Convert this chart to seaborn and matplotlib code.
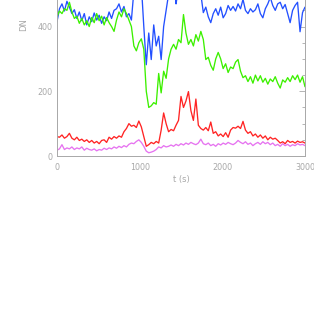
import numpy as np
import pandas as pd
import seaborn as sns
import matplotlib.pyplot as plt
from matplotlib.ticker import MultipleLocator

# time grid (s)
time_s = np.arange(0, 3001, 30)

blue_dn = [415, 455, 470, 448, 478, 460, 440, 452, 425, 445,
           418, 440, 405, 430, 415, 442, 420, 435, 410, 430,
           418, 445, 425, 450, 455, 470, 445, 462, 430, 440,
           420, 510, 560, 560, 530, 400, 282, 380, 298, 405,
           340, 370, 298, 400, 450, 500, 540, 560, 470, 520,
           560, 570, 570, 570, 570, 570, 560, 540, 500, 443,
           460, 430, 412, 440, 455, 435, 460, 427, 440, 465,
           450, 462, 448, 470, 455, 484, 450, 440, 455, 445,
           452, 470, 440, 427, 455, 470, 490, 465, 450, 470,
           475, 455, 468, 440, 412, 450, 465, 475, 384, 443,
           460]

green_dn = [430, 448, 440, 455, 450, 475, 445, 425, 432, 410,
            425, 405, 418, 400, 428, 412, 440, 418, 432, 405,
            428, 412, 400, 385, 420, 445, 430, 455, 440, 420,
            400, 340, 325, 350, 362, 330, 200, 150, 155, 165,
            160, 255, 195, 262, 240, 300, 330, 345, 330, 360,
            350, 437, 380, 345, 360, 340, 375, 355, 385, 360,
            298, 305, 280, 265, 300, 320, 300, 270, 285, 258,
            275, 270, 290, 298, 262, 242, 248, 230, 245, 225,
            250, 232, 248, 228, 240, 222, 238, 230, 245, 225,
            210, 235, 228, 242, 230, 248, 236, 250, 228, 245,
            214]

red_dn = [60, 58, 65, 55, 60, 70, 55, 50, 58, 48,
          52, 45, 50, 42, 48, 40, 45, 38, 48, 50,
          42, 58, 52, 60, 55, 62, 58, 75, 85, 100,
          92, 95, 88, 108, 90, 60, 30, 35, 42, 38,
          45, 40, 80, 133, 100, 75, 82, 78, 95, 110,
          184, 150, 170, 199, 140, 110, 176, 95, 85, 80,
          88, 78, 105, 70, 75, 62, 68, 60, 72, 58,
          80, 88, 86, 92, 85, 107, 80, 70, 75, 62,
          68, 58, 65, 55, 62, 50, 58, 52, 55, 48,
          40, 44, 38, 48, 42, 45, 40, 46, 42, 44,
          40]

violet_dn = [18, 22, 35, 20, 25, 22, 28, 20, 25, 22,
             28, 18, 24, 20, 18, 22, 16, 20, 18, 24,
             20, 25, 22, 28, 24, 30, 26, 32, 28, 36,
             40, 38, 45, 50, 42, 30, 15, 10, 12, 15,
             20, 28, 25, 32, 28, 30, 34, 30, 36, 32,
             38, 34, 40, 36, 42, 38, 35, 40, 52, 38,
             35, 40, 32, 36, 30, 38, 34, 40, 36, 42,
             38, 35, 40, 48, 42, 38, 44, 36, 40, 32,
             38, 42, 36, 44, 38, 42, 35, 40, 32, 36,
             30, 38, 32, 36, 30, 35, 32, 38, 34, 36,
             32]

series = [("blue", blue_dn, "#2350ff"),
          ("green", green_dn, "#3cf000"),
          ("red", red_dn, "#ff2424"),
          ("violet", violet_dn, "#e673f0")]

sns.set_style("white")
plt.rcParams["font.family"] = ["DejaVu Sans"]
grey = "#a8a8a8"

fig = plt.figure(figsize=(3.14, 3.22), dpi=100)
ax = fig.add_axes([57 / 314, 166 / 322, 248 / 314, 156 / 322])

for name, vals, col in series:
    df = pd.DataFrame({"t": time_s, "DN": vals})
    sns.lineplot(data=df, x="t", y="DN", color=col, linewidth=0.95, ax=ax)

ax.set_xlim(0, 3000)
ax.set_ylim(0, 482)
ax.xaxis.set_major_locator(MultipleLocator(1000))
ax.xaxis.set_minor_locator(MultipleLocator(100))
ax.yaxis.set_major_locator(MultipleLocator(200))
ax.yaxis.set_minor_locator(MultipleLocator(50))
ax.tick_params(which="both", direction="in", top=False, right=True,
               color=grey, labelcolor=grey, labelsize=5.8, width=0.6)
ax.tick_params(which="major", length=4)
ax.tick_params(which="minor", length=2.5)
ax.tick_params(axis="x", pad=5)
ax.tick_params(axis="y", pad=3)

for side in ["left", "right", "bottom"]:
    ax.spines[side].set_color(grey)
    ax.spines[side].set_linewidth(0.7)
ax.spines["top"].set_visible(False)

ax.set_xlabel("t (s)", color=grey, fontsize=6)
ax.set_ylabel("DN", color=grey, fontsize=6)
ax.xaxis.set_label_coords(0.5, -0.12)
ax.yaxis.set_label_coords(-0.115, 0.84)

fig.savefig("out.png", dpi=100)
